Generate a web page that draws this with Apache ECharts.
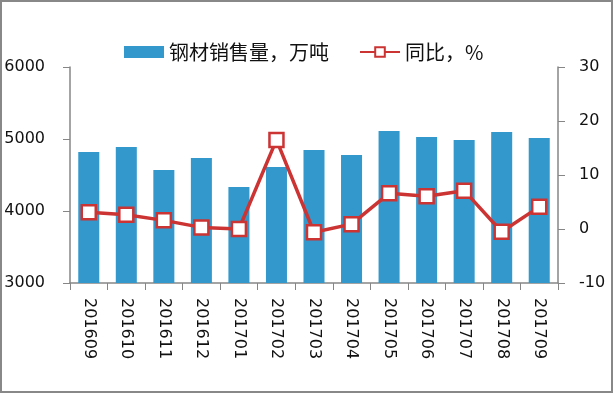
<!DOCTYPE html>
<html><head><meta charset="utf-8">
<script src="https://cdn.jsdelivr.net/npm/echarts@6/dist/echarts.min.js"></script>
<style>html,body{margin:0;padding:0;background:#fff}#c{width:614px;height:394px}</style>
</head><body><div id="c"></div>
<script>
const categories = ['201609','201610','201611','201612','201701','201702','201703','201704','201705','201706','201707','201708','201709'];
const salesVolume = [4820, 4889, 4569, 4736, 4333, 4611, 4847, 4778, 5111, 5028, 4986, 5097, 5014];
const yoyPercent = [3.1, 2.65, 1.6, 0.3, 0.0, 16.5, -0.6, 0.9, 6.6, 6.05, 7.1, -0.5, 4.1];
const barName = '钢材销售量，万吨';
const lineName = '同比，%';

const chart = echarts.init(document.getElementById('c'));
const font = 'DejaVu Sans, Noto Sans CJK SC, sans-serif';
const axisColor = '#868686';
chart.setOption({
  animation: false,
  textStyle: {fontFamily: font},
  graphic: [{type: 'rect', shape: {x: 1, y: 1, width: 611, height: 391}, style: {fill: 'none', stroke: '#888', lineWidth: 2}, silent: true}],
  legend: {
    left: 119, top: 37, itemWidth: 40, itemHeight: 12, itemGap: 30,
    textStyle: {fontSize: 20, color: '#111', fontFamily: 'Noto Sans CJK SC, sans-serif'},
    data: [{name: barName, icon: 'rect'}, {name: lineName}]
  },
  grid: {left: 70, right: 56, top: 67, bottom: 111, outerBoundsMode: 'none', containLabel: false},
  xAxis: {
    type: 'category', data: categories,
    axisLine: {onZero: false, lineStyle: {color: axisColor, width: 1.5}},
    axisTick: {show: true, length: 7, lineStyle: {color: axisColor}},
    axisLabel: {rotate: -90, fontSize: 16, color: '#111', margin: 15, fontFamily: font}
  },
  yAxis: [{
    type: 'value', min: 3000, max: 6000, interval: 1000,
    axisLine: {show: true, lineStyle: {color: axisColor, width: 1.5}},
    axisTick: {show: true, length: 7, lineStyle: {color: axisColor}},
    splitLine: {show: false},
    axisLabel: {fontSize: 16, color: '#111', margin: 25, fontFamily: font, formatter: v => String(v)}
  }, {
    type: 'value', min: -10, max: 30, interval: 10, position: 'right',
    axisLine: {show: true, lineStyle: {color: axisColor, width: 1.5}},
    axisTick: {show: true, length: 7, lineStyle: {color: axisColor}},
    splitLine: {show: false},
    axisLabel: {fontSize: 16, color: '#111', margin: 21, fontFamily: font, formatter: v => String(v)}
  }],
  series: [{
    name: barName, type: 'bar', data: salesVolume, barWidth: '56%',
    itemStyle: {color: '#3399cc'}
  }, {
    name: lineName, type: 'line', yAxisIndex: 1, data: yoyPercent,
    symbol: 'rect', symbolSize: 14,
    lineStyle: {color: '#cc3333', width: 3.5},
    itemStyle: {color: '#fff', borderColor: '#cc3333', borderWidth: 2.5},
    z: 5
  }]
});
</script></body></html>
